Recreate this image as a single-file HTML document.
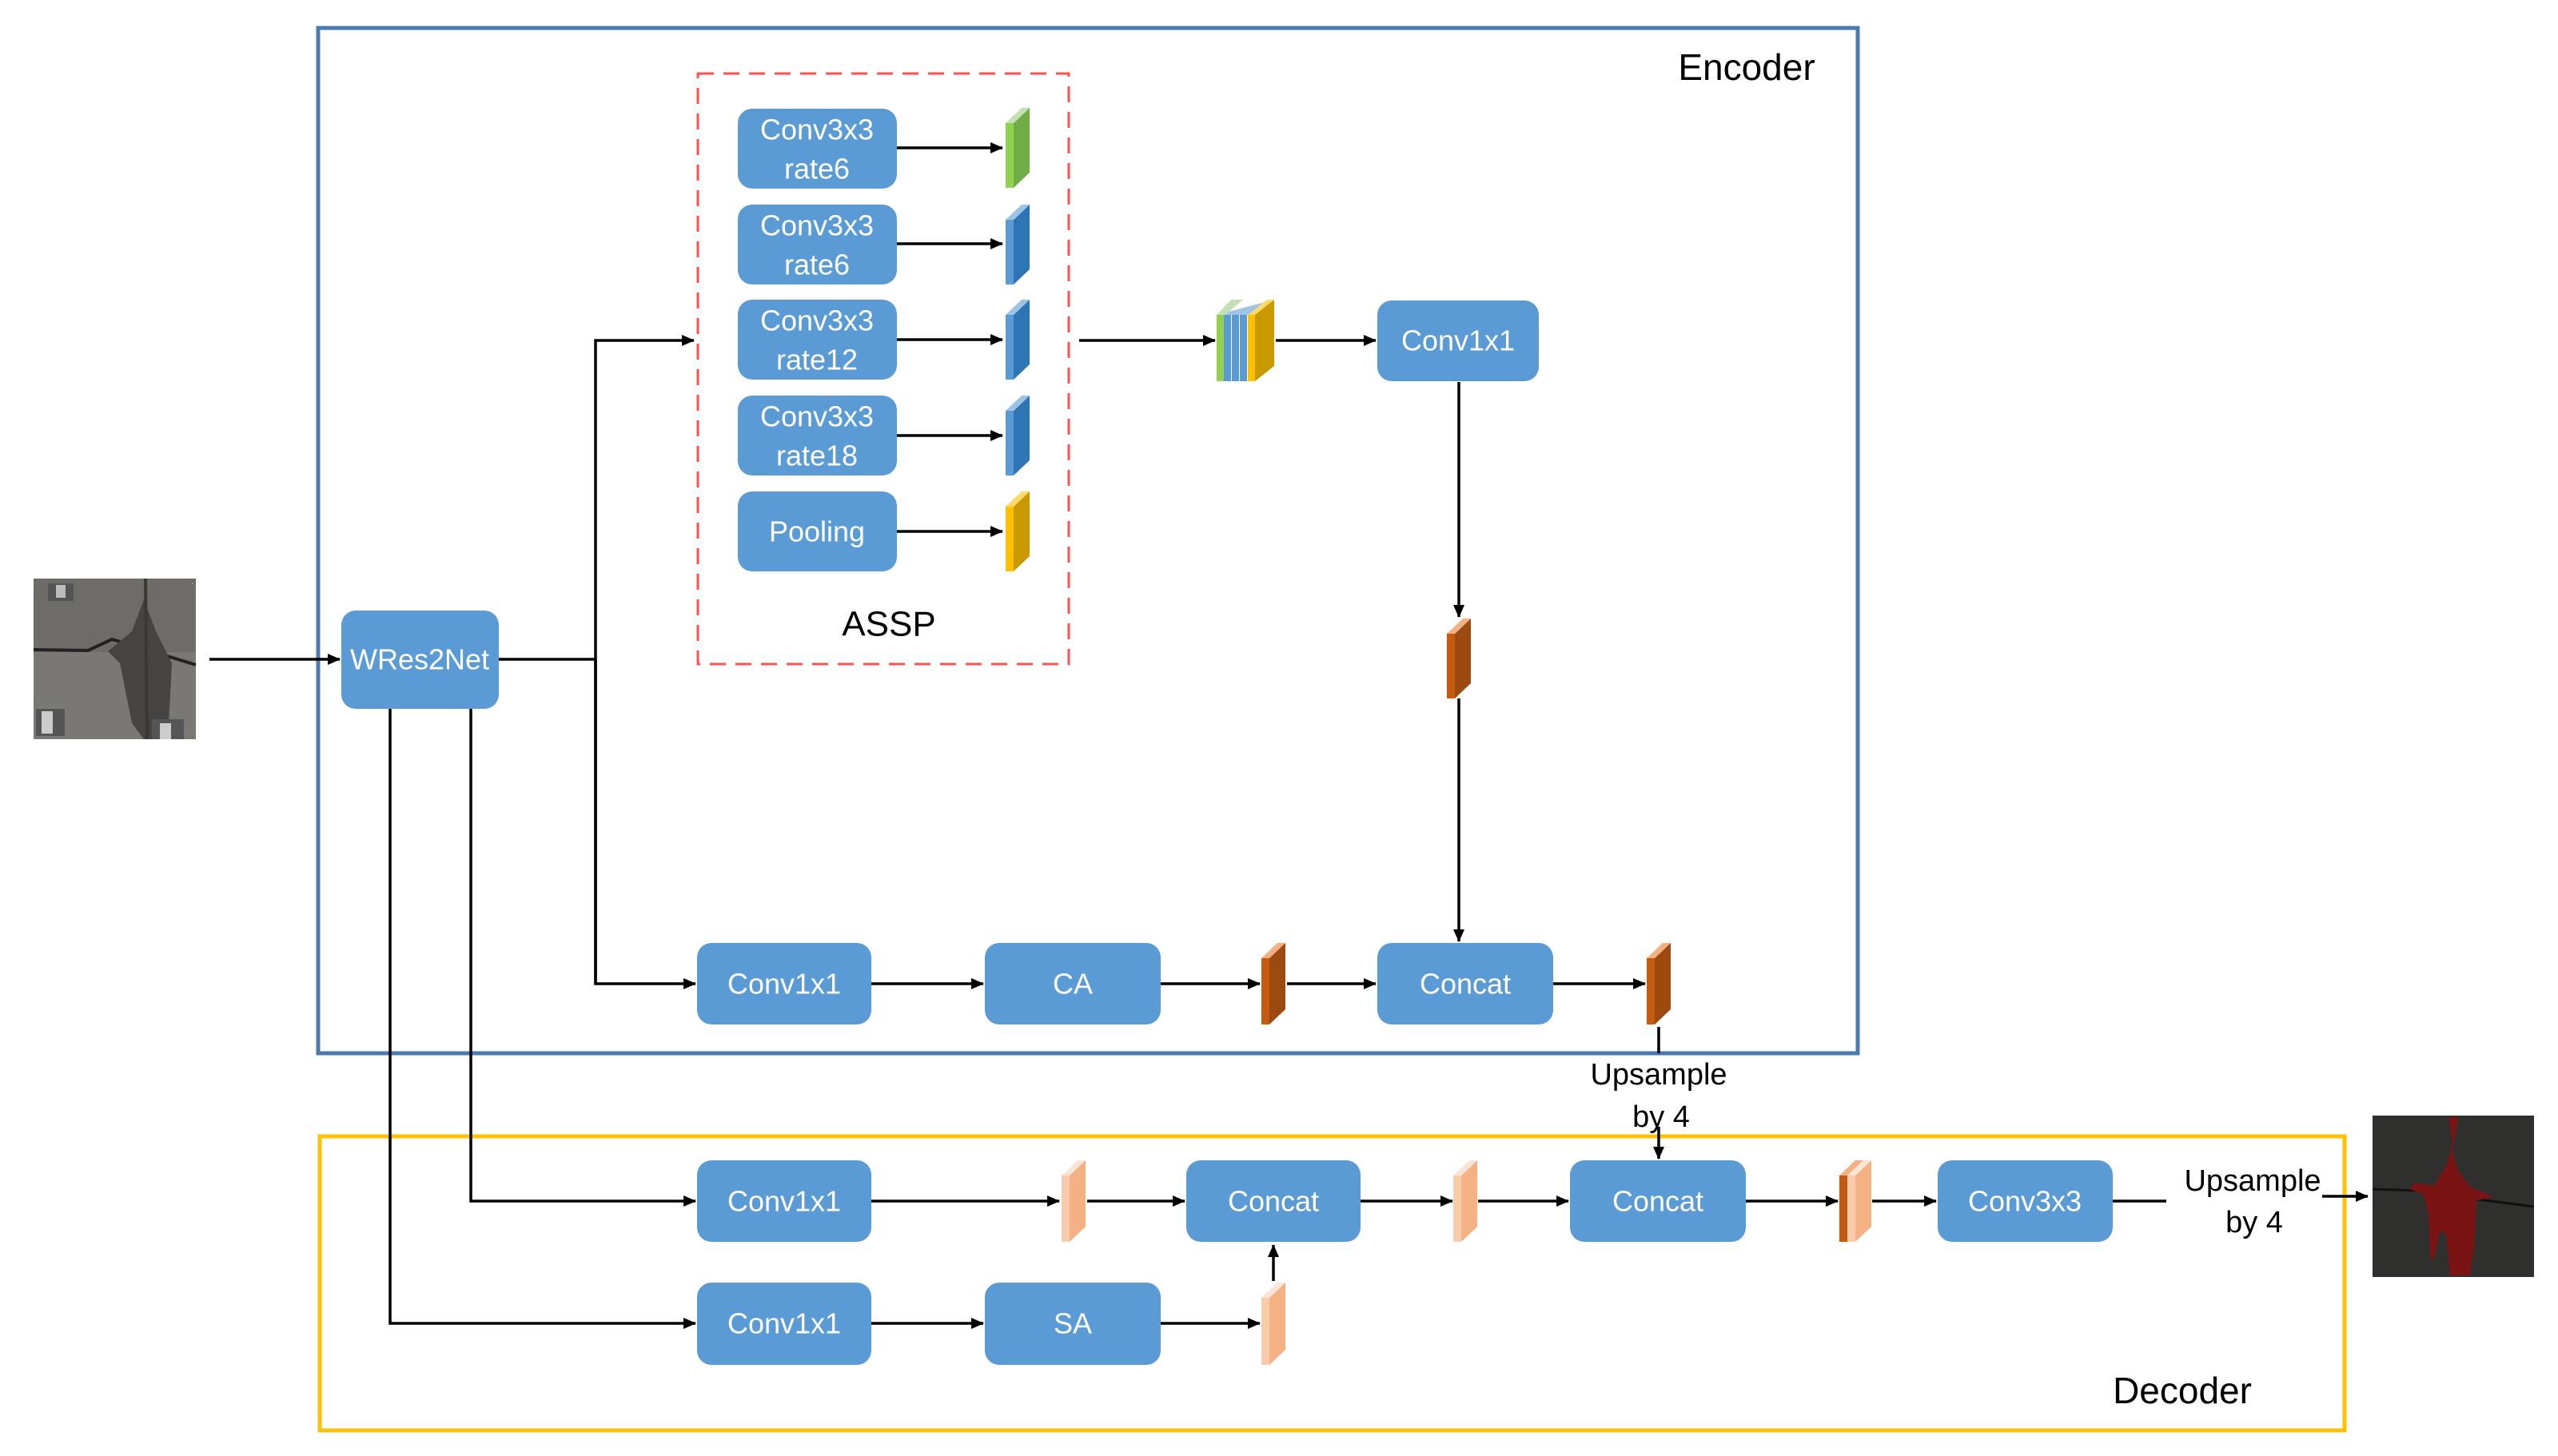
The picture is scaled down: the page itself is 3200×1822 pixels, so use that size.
<!DOCTYPE html>
<html><head><meta charset="utf-8"><style>
html,body{margin:0;padding:0;background:#fff}
svg{display:block}
text{font-family:"Liberation Sans",sans-serif}
.b{fill:#5b9bd5}
.t{fill:#fff;font-size:36px;text-anchor:middle;dominant-baseline:central}
.k{fill:#000;font-size:38px;text-anchor:middle;dominant-baseline:central}
.l{stroke:#000;stroke-width:3.5;fill:none}
</style></head><body>
<svg width="3200" height="1822" viewBox="0 0 3200 1822" xmlns="http://www.w3.org/2000/svg">
<defs>
<marker id="a" markerWidth="10" markerHeight="10" refX="9" refY="5" orient="auto" markerUnits="userSpaceOnUse" viewBox="0 0 10 10"><path d="M0,0 L10,5 L0,10 z" fill="#000" transform="scale(1.4) translate(-3,-1.4)"/></marker>
<marker id="m" markerWidth="16" markerHeight="14" refX="15" refY="7" orient="auto" markerUnits="userSpaceOnUse"><path d="M0,0 L16,7 L0,14 z" fill="#000"/></marker>
</defs>

<!-- group boxes -->
<rect x="398" y="35" width="1926" height="1283" fill="none" stroke="#4a7ab0" stroke-width="5"/>
<rect x="400" y="1422" width="2533" height="368" fill="none" stroke="#ffc000" stroke-width="5"/>
<rect x="873" y="92" width="464" height="739" fill="none" stroke="#ff5050" stroke-width="3" stroke-dasharray="20,12"/>
<text class="k" x="2185" y="84" style="font-size:46px">Encoder</text>
<text class="k" x="2730" y="1740" style="font-size:46px">Decoder</text>
<text class="k" x="1112" y="781" style="font-size:44px">ASSP</text>

<!-- input image -->
<rect x="42" y="724" width="203" height="201" fill="#7a7874"/>
<rect x="42" y="724" width="203" height="92" fill="#6e6c69"/>
<path d="M42,813 L110,814 L140,800 L180,812 L245,832" stroke="#222" stroke-width="4" fill="none"/>
<path d="M165,790 L180,750 L195,790 L215,830 L210,925 L180,925 L165,905 L150,830 L135,815 Z" fill="#454443"/>
<path d="M182,724 L184,925" stroke="#3a3835" stroke-width="4"/>
<rect x="60" y="730" width="32" height="22" fill="#555"/><rect x="70" y="732" width="12" height="16" fill="#bbb"/>
<rect x="240" y="730" width="1" height="1" fill="#fff"/>
<rect x="45" y="887" width="36" height="34" fill="#555"/><rect x="52" y="890" width="14" height="28" fill="#ccc"/>
<rect x="190" y="900" width="40" height="25" fill="#555"/><rect x="200" y="905" width="14" height="20" fill="#ccc"/>

<!-- output image -->
<rect x="2968" y="1396" width="202" height="202" fill="#2f2f2d"/>
<path d="M2968,1488 L3030,1490 L3070,1497 L3170,1510" stroke="#111" stroke-width="3" fill="none"/>
<path d="M3063,1398 L3075,1398 L3072,1420 L3068,1440 L3075,1465 L3090,1485 L3120,1498 L3098,1502 L3095,1560 L3090,1596 L3065,1596 L3060,1545 L3052,1540 L3045,1575 L3040,1575 L3038,1520 L3032,1495 L3015,1488 L3020,1480 L3045,1484 L3062,1455 L3068,1430 Z" fill="#7a1414"/>

<!-- arrows -->
<line class="l" x1="262" y1="825" x2="425" y2="825" marker-end="url(#m)"/>
<polyline class="l" points="624,825 745,825"/>
<polyline class="l" points="745,1231 745,426 868,426" marker-end="url(#m)"/>
<polyline class="l" points="745,825 745,1231 870,1231" marker-end="url(#m)"/>
<line class="l" x1="1122" y1="185" x2="1254" y2="185" marker-end="url(#m)"/>
<line class="l" x1="1122" y1="305" x2="1254" y2="305" marker-end="url(#m)"/>
<line class="l" x1="1122" y1="425" x2="1254" y2="425" marker-end="url(#m)"/>
<line class="l" x1="1122" y1="545" x2="1254" y2="545" marker-end="url(#m)"/>
<line class="l" x1="1122" y1="665" x2="1254" y2="665" marker-end="url(#m)"/>
<line class="l" x1="1350" y1="426" x2="1520" y2="426" marker-end="url(#m)"/>
<line class="l" x1="1596" y1="426" x2="1721" y2="426" marker-end="url(#m)"/>
<line class="l" x1="1825" y1="478" x2="1825" y2="772" marker-end="url(#m)"/>
<line class="l" x1="1825" y1="874" x2="1825" y2="1178" marker-end="url(#m)"/>
<line class="l" x1="1090" y1="1231" x2="1230" y2="1231" marker-end="url(#m)"/>
<line class="l" x1="1452" y1="1231" x2="1576" y2="1231" marker-end="url(#m)"/>
<line class="l" x1="1610" y1="1231" x2="1721" y2="1231" marker-end="url(#m)"/>
<line class="l" x1="1943" y1="1231" x2="2058" y2="1231" marker-end="url(#m)"/>
<line class="l" x1="2075" y1="1285" x2="2075" y2="1318"/>
<line class="l" x1="2075" y1="1410" x2="2075" y2="1450" marker-end="url(#m)"/>
<text class="k" x="2075" y="1345">Upsample</text>
<text class="k" x="2078" y="1398">by 4</text>
<polyline class="l" points="589,887 589,1503 870,1503" marker-end="url(#m)"/>
<polyline class="l" points="488,887 488,1656 870,1656" marker-end="url(#m)"/>
<line class="l" x1="1090" y1="1503" x2="1325" y2="1503" marker-end="url(#m)"/>
<line class="l" x1="1360" y1="1503" x2="1482" y2="1503" marker-end="url(#m)"/>
<line class="l" x1="1702" y1="1503" x2="1817" y2="1503" marker-end="url(#m)"/>
<line class="l" x1="1849" y1="1503" x2="1962" y2="1503" marker-end="url(#m)"/>
<line class="l" x1="2184" y1="1503" x2="2299" y2="1503" marker-end="url(#m)"/>
<line class="l" x1="2342" y1="1503" x2="2422" y2="1503" marker-end="url(#m)"/>
<line class="l" x1="2643" y1="1503" x2="2710" y2="1503"/>
<line class="l" x1="2905" y1="1497" x2="2962" y2="1497" marker-end="url(#m)"/>
<text class="k" x="2818" y="1478">Upsample</text>
<text class="k" x="2820" y="1530">by 4</text>
<line class="l" x1="1090" y1="1656" x2="1230" y2="1656" marker-end="url(#m)"/>
<line class="l" x1="1452" y1="1656" x2="1576" y2="1656" marker-end="url(#m)"/>
<line class="l" x1="1593" y1="1603" x2="1593" y2="1558" marker-end="url(#m)"/>

<!-- boxes -->
<rect class="b" x="923" y="136" width="199" height="100" rx="18"/>
<text class="t" x="1022" y="162">Conv3x3</text><text class="t" x="1022" y="211">rate6</text>
<rect class="b" x="923" y="256" width="199" height="100" rx="18"/>
<text class="t" x="1022" y="282">Conv3x3</text><text class="t" x="1022" y="331">rate6</text>
<rect class="b" x="923" y="375" width="199" height="100" rx="18"/>
<text class="t" x="1022" y="401">Conv3x3</text><text class="t" x="1022" y="450">rate12</text>
<rect class="b" x="923" y="495" width="199" height="100" rx="18"/>
<text class="t" x="1022" y="521">Conv3x3</text><text class="t" x="1022" y="570">rate18</text>
<rect class="b" x="923" y="615" width="199" height="100" rx="18"/>
<text class="t" x="1022" y="665">Pooling</text>
<rect class="b" x="427" y="764" width="197" height="123" rx="18"/>
<text class="t" x="525" y="825">WRes2Net</text>
<rect class="b" x="1723" y="376" width="202" height="101" rx="18"/>
<text class="t" x="1824" y="426">Conv1x1</text>
<rect class="b" x="872" y="1180" width="218" height="102" rx="18"/><text class="t" x="981" y="1231">Conv1x1</text>
<rect class="b" x="1232" y="1180" width="220" height="102" rx="18"/><text class="t" x="1342" y="1231">CA</text>
<rect class="b" x="1723" y="1180" width="220" height="102" rx="18"/><text class="t" x="1833" y="1231">Concat</text>
<rect class="b" x="872" y="1452" width="218" height="102" rx="18"/><text class="t" x="981" y="1503">Conv1x1</text>
<rect class="b" x="1484" y="1452" width="218" height="102" rx="18"/><text class="t" x="1593" y="1503">Concat</text>
<rect class="b" x="1964" y="1452" width="220" height="102" rx="18"/><text class="t" x="2074" y="1503">Concat</text>
<rect class="b" x="2424" y="1452" width="219" height="102" rx="18"/><text class="t" x="2533" y="1503">Conv3x3</text>
<rect class="b" x="872" y="1605" width="218" height="103" rx="18"/><text class="t" x="981" y="1656">Conv1x1</text>
<rect class="b" x="1232" y="1605" width="220" height="103" rx="18"/><text class="t" x="1342" y="1656">SA</text>

<!-- feature bars -->
<g id="bars">
<!-- ASSP -->
<polygon points="1258,154 1268,154 1268,235 1258,235" fill="#92d050"/><polygon points="1268,154 1288,135 1288,216 1268,235" fill="#70ad47"/><polygon points="1258,154 1278,135 1288,135 1268,154" fill="#c5e0b4"/>
<polygon points="1258,275 1268,275 1268,356 1258,356" fill="#5b9bd5"/><polygon points="1268,275 1288,256 1288,337 1268,356" fill="#2e75b6"/><polygon points="1258,275 1278,256 1288,256 1268,275" fill="#9dc3e6"/>
<polygon points="1258,394 1268,394 1268,475 1258,475" fill="#5b9bd5"/><polygon points="1268,394 1288,375 1288,456 1268,475" fill="#2e75b6"/><polygon points="1258,394 1278,375 1288,375 1268,394" fill="#9dc3e6"/>
<polygon points="1258,514 1268,514 1268,595 1258,595" fill="#5b9bd5"/><polygon points="1268,514 1288,495 1288,576 1268,595" fill="#2e75b6"/><polygon points="1258,514 1278,495 1288,495 1268,514" fill="#9dc3e6"/>
<polygon points="1258,634 1268,634 1268,715 1258,715" fill="#ffc000"/><polygon points="1268,634 1288,615 1288,696 1268,715" fill="#c99a00"/><polygon points="1258,634 1278,615 1288,615 1268,634" fill="#ffd966"/>
<!-- multi -->
<polygon points="1522,394 1594,375 1594,375 1573,394" fill="#9dc3e6"/>
<polygon points="1522,394 1540,375 1555,375 1533,394" fill="#c5e0b4"/>
<rect x="1522" y="394" width="9" height="83" fill="#92d050"/>
<rect x="1531" y="394" width="9" height="83" fill="#5b9bd5"/>
<rect x="1541" y="394" width="9" height="83" fill="#5b9bd5"/>
<rect x="1551" y="394" width="9" height="83" fill="#5b9bd5"/>
<rect x="1561" y="394" width="9" height="83" fill="#ffc000"/>
<polygon points="1570,394 1594,375 1594,458 1570,477" fill="#c99a00"/>
<polygon points="1561,394 1585,375 1594,375 1570,394" fill="#ffd966"/>
<!-- orange dark -->
<polygon points="1810,793 1820,793 1820,874 1810,874" fill="#c55a11"/><polygon points="1820,793 1840,774 1840,855 1820,874" fill="#9c4a0f"/><polygon points="1810,793 1830,774 1840,774 1820,793" fill="#f4b183"/>
<polygon points="1578,1199 1588,1199 1588,1282 1578,1282" fill="#c55a11"/><polygon points="1588,1199 1608,1180 1608,1263 1588,1282" fill="#9c4a0f"/><polygon points="1578,1199 1598,1180 1608,1180 1588,1199" fill="#f4b183"/>
<polygon points="2060,1199 2070,1199 2070,1282 2060,1282" fill="#c55a11"/><polygon points="2070,1199 2090,1180 2090,1263 2070,1282" fill="#9c4a0f"/><polygon points="2060,1199 2080,1180 2090,1180 2070,1199" fill="#f4b183"/>
<!-- peach -->
<polygon points="1328,1471 1338,1471 1338,1554 1328,1554" fill="#f8cbad"/><polygon points="1338,1471 1358,1452 1358,1535 1338,1554" fill="#f4b183"/><polygon points="1328,1471 1348,1452 1358,1452 1338,1471" fill="#fbe5d6"/>
<polygon points="1818,1471 1828,1471 1828,1554 1818,1554" fill="#f8cbad"/><polygon points="1828,1471 1848,1452 1848,1535 1828,1554" fill="#f4b183"/><polygon points="1818,1471 1838,1452 1848,1452 1828,1471" fill="#fbe5d6"/>
<polygon points="1578,1624 1588,1624 1588,1708 1578,1708" fill="#f8cbad"/><polygon points="1588,1624 1608,1605 1608,1689 1588,1708" fill="#f4b183"/><polygon points="1578,1624 1598,1605 1608,1605 1588,1624" fill="#fbe5d6"/>
<!-- double -->
<polygon points="2301,1471 2311,1471 2311,1554 2301,1554" fill="#c55a11"/><polygon points="2301,1471 2321,1452 2331,1452 2311,1471" fill="#f4b183"/>
<polygon points="2311,1471 2321,1471 2321,1554 2311,1554" fill="#f8cbad"/><polygon points="2321,1471 2341,1452 2341,1535 2321,1554" fill="#f4b183"/><polygon points="2311,1471 2331,1452 2341,1452 2321,1471" fill="#fbe5d6"/>
</g>
</svg>
</body></html>
